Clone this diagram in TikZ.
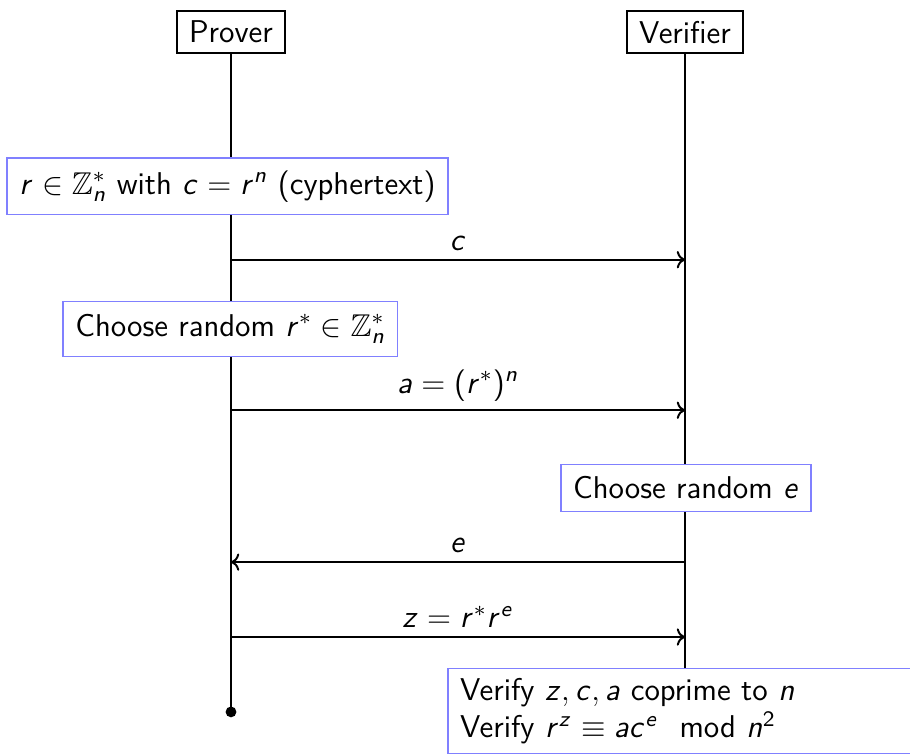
\RequirePackage{fix-cm}
\documentclass[tikz,border=0pt]{standalone}
\usepackage{amsfonts}
\usepackage{amssymb}
\usepackage{amsmath}
\renewcommand{\familydefault}{\sfdefault}
\DeclareSymbolFont{sfslanted}{OT1}{cmss}{m}{sl}
\SetSymbolFont{operators}{normal}{OT1}{cmss}{m}{n}
\DeclareMathSymbol{a}{\mathalpha}{sfslanted}{`a}
\DeclareMathSymbol{c}{\mathalpha}{sfslanted}{`c}
\DeclareMathSymbol{e}{\mathalpha}{sfslanted}{`e}
\DeclareMathSymbol{n}{\mathalpha}{sfslanted}{`n}
\DeclareMathSymbol{r}{\mathalpha}{sfslanted}{`r}
\DeclareMathSymbol{z}{\mathalpha}{sfslanted}{`z}
\usetikzlibrary{arrows.meta, calc}

\begin{document}
\begin{tikzpicture}[font=\fontsize{12.8}{15}\selectfont,
  party/.style={shape=rectangle,draw=black,thick,fill=white,inner xsep=5pt,inner ysep=4pt},
  stepbox/.style={shape=rectangle,draw=blue!50,semithick,fill=white,inner sep=5pt},
  msg/.style={thick,->},
  life/.style={thick}]
\useasboundingbox (0,0) rectangle (13,-10.77);

\node[party] (P) at (3.3,-0.46) {Prover};
\node[party] (V) at (9.786,-0.46) {Verifier};

\coordinate (PE) at (3.3,-10.17);
\coordinate (VE) at (9.786,-9.6);
\draw[life] (P.south) -- (PE);
\draw[life] (V.south) -- (VE);
\fill (PE) circle (2.2pt);

\node[stepbox] (S1) at (3.25,-2.66) {$r \in \mathbb{Z}_n^*$ with $c = r^n$ (cyphertext)};

\coordinate (P1) at (3.3,-3.71);
\coordinate (V1) at (9.786,-3.71);
\draw[msg] (P1) -- node[above] {$c$} (V1);

\node[stepbox] (S2) at (3.29,-4.7) {Choose random $r^* \in \mathbb{Z}_n^*$};

\coordinate (P2) at (3.3,-5.86);
\coordinate (V2) at (9.786,-5.86);
\draw[msg] (P2) -- node[above] {$a = (r^*)^n$} (V2);

\node[stepbox] (S3) at (9.8,-6.97) {Choose random $e$};

\coordinate (P3) at (3.3,-8.03);
\coordinate (V3) at (9.786,-8.03);
\draw[msg] (V3) -- node[above] {$e$} (P3);

\coordinate (P4) at (3.3,-9.1);
\coordinate (V4) at (9.786,-9.1);
\draw[msg] (P4) -- node[above] {$z = r^* r^e$} (V4);

\node[stepbox,anchor=north west,align=left,text width=8cm,inner ysep=4pt] (S4) at (6.386,-9.543)
  {Verify $z, c, a$ coprime to $n$\\ Verify $r^z \equiv ac^e \mod n^2$};

\end{tikzpicture}
\end{document}
